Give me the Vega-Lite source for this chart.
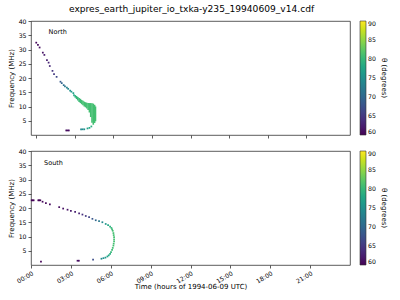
{
  "$schema": "https://vega.github.io/schema/vega-lite/v6.json",
  "background": "white",
  "padding": {"left": 6, "top": 4, "right": 2, "bottom": 2},
  "title": {"text": "expres_earth_jupiter_io_txka-y235_19940609_v14.cdf", "fontSize": 9.1, "font": "DejaVu Sans", "fontWeight": "normal", "color": "#000", "offset": 4, "anchor": "middle", "dx": -6},
  "datasets": {
    "north_dots": [
      {"t": 0.02, "f": 32.4, "th": 60.5}, {"t": 0.15, "f": 31.6, "th": 60.8}, {"t": 0.28, "f": 30.7, "th": 61},
      {"t": 0.53, "f": 28.9, "th": 61.5}, {"t": 0.65, "f": 28.1, "th": 62}, {"t": 0.85, "f": 26.3, "th": 62.5},
      {"t": 0.98, "f": 25.4, "th": 63}, {"t": 1.07, "f": 24.2, "th": 63.5}, {"t": 1.28, "f": 22.5, "th": 64.5},
      {"t": 1.4, "f": 21.4, "th": 65}, {"t": 1.6, "f": 20.4, "th": 66.5}, {"t": 1.9, "f": 18.7, "th": 68.5},
      {"t": 2.0, "f": 18.2, "th": 69.5}, {"t": 2.15, "f": 17.5, "th": 71}, {"t": 2.25, "f": 17.1, "th": 72},
      {"t": 2.4, "f": 16.6, "th": 73}, {"t": 2.5, "f": 16.2, "th": 74}, {"t": 2.65, "f": 15.6, "th": 75},
      {"t": 2.75, "f": 15.2, "th": 76}, {"t": 2.9, "f": 14.7, "th": 77},
      {"t": 4.3, "f": 3.0, "th": 79}, {"t": 4.15, "f": 2.5, "th": 78}, {"t": 4.0, "f": 2.3, "th": 77},
      {"t": 3.75, "f": 2.0, "th": 75}, {"t": 3.62, "f": 2.0, "th": 74.5}, {"t": 3.5, "f": 1.95, "th": 74},
      {"t": 2.35, "f": 1.6, "th": 61}, {"t": 2.45, "f": 1.6, "th": 61}, {"t": 2.55, "f": 1.6, "th": 61}
    ],
    "north_band": [
      {"t": 2.95, "f1": 13.6, "f2": 14.3, "th": 78}, {"t": 3.05, "f1": 13.1, "f2": 14.0, "th": 79},
      {"t": 3.15, "f1": 12.6, "f2": 13.7, "th": 80}, {"t": 3.25, "f1": 12.1, "f2": 13.3, "th": 80},
      {"t": 3.35, "f1": 11.6, "f2": 13.0, "th": 80.5}, {"t": 3.45, "f1": 11.2, "f2": 12.7, "th": 80.5},
      {"t": 3.55, "f1": 10.8, "f2": 12.3, "th": 81}, {"t": 3.65, "f1": 10.4, "f2": 12.0, "th": 81},
      {"t": 3.75, "f1": 10.0, "f2": 11.7, "th": 81}, {"t": 3.85, "f1": 9.7, "f2": 11.5, "th": 81},
      {"t": 3.95, "f1": 9.3, "f2": 11.3, "th": 81}, {"t": 4.05, "f1": 8.8, "f2": 11.2, "th": 81},
      {"t": 4.15, "f1": 7.9, "f2": 11.2, "th": 81}, {"t": 4.25, "f1": 6.3, "f2": 11.2, "th": 81},
      {"t": 4.35, "f1": 4.3, "f2": 11.1, "th": 81}, {"t": 4.45, "f1": 3.6, "f2": 11.0, "th": 81},
      {"t": 4.55, "f1": 4.2, "f2": 10.6, "th": 81}, {"t": 4.62, "f1": 4.8, "f2": 10.0, "th": 81}
    ],
    "south_dots": [
      {"t": 0.05, "f": 22.7, "th": 60.2}, {"t": 0.12, "f": 22.7, "th": 60.2}, {"t": 0.2, "f": 22.7, "th": 60.2},
      {"t": 0.55, "f": 22.7, "th": 60.3}, {"t": 0.62, "f": 22.7, "th": 60.3}, {"t": 0.7, "f": 22.7, "th": 60.3},
      {"t": 0.87, "f": 22.2, "th": 60.5}, {"t": 1.12, "f": 21.7, "th": 60.5}, {"t": 1.42, "f": 21.3, "th": 60.8},
      {"t": 2.12, "f": 20.3, "th": 61}, {"t": 2.42, "f": 19.8, "th": 61.3}, {"t": 2.75, "f": 19.4, "th": 61.5},
      {"t": 3.0, "f": 19.0, "th": 62}, {"t": 3.32, "f": 18.6, "th": 62.5}, {"t": 3.62, "f": 18.1, "th": 63},
      {"t": 3.87, "f": 17.7, "th": 64}, {"t": 4.12, "f": 17.2, "th": 65}, {"t": 4.37, "f": 16.8, "th": 66},
      {"t": 4.62, "f": 16.2, "th": 68}, {"t": 4.87, "f": 15.7, "th": 70}, {"t": 5.12, "f": 15.4, "th": 72},
      {"t": 5.37, "f": 15.0, "th": 74}, {"t": 5.62, "f": 14.4, "th": 76}, {"t": 5.8, "f": 14.0, "th": 78},
      {"t": 5.95, "f": 13.5, "th": 79}, {"t": 6.05, "f": 13.0, "th": 80}, {"t": 6.1, "f": 12.5, "th": 80.5},
      {"t": 6.15, "f": 12.0, "th": 81}, {"t": 6.2, "f": 11.2, "th": 81}, {"t": 6.22, "f": 10.5, "th": 81},
      {"t": 6.25, "f": 9.8, "th": 81}, {"t": 6.25, "f": 9.0, "th": 81}, {"t": 6.25, "f": 8.3, "th": 81},
      {"t": 6.22, "f": 7.5, "th": 81}, {"t": 6.2, "f": 6.8, "th": 81}, {"t": 6.15, "f": 6.0, "th": 81},
      {"t": 6.1, "f": 5.3, "th": 80.5}, {"t": 6.02, "f": 4.5, "th": 80}, {"t": 5.95, "f": 3.9, "th": 79},
      {"t": 5.85, "f": 3.4, "th": 78}, {"t": 5.75, "f": 3.0, "th": 77}, {"t": 5.6, "f": 2.6, "th": 76},
      {"t": 5.45, "f": 2.4, "th": 75}, {"t": 5.3, "f": 2.2, "th": 74}, {"t": 4.67, "f": 1.9, "th": 67},
      {"t": 3.5, "f": 1.5, "th": 61}, {"t": 3.6, "f": 1.5, "th": 61}, {"t": 0.75, "f": 1.2, "th": 60.2}
    ]
  },
  "spacing": 8,
  "resolve": {"scale": {"color": "independent"}},
  "vconcat": [
    {
      "width": 319, "height": 114,
      "layer": [
        {
          "data": {"name": "north_band"},
          "mark": {"type": "bar", "width": 1.6},
          "encoding": {
            "x": {"field": "t", "type": "quantitative", "scale": {"domain": [0, 24], "nice": false}, "axis": {"values": [0, 3, 6, 9, 12, 15, 18, 21], "tickCount": 10, "labels": false, "title": null}},
            "y": {"field": "f1", "type": "quantitative", "scale": {"domain": [0, 40], "nice": false}, "axis": {"values": [5, 10, 15, 20, 25, 30, 35, 40], "tickCount": 10, "title": "Frequency (MHz)"}},
            "y2": {"field": "f2"},
            "color": {"field": "th", "type": "quantitative", "scale": {"scheme": "viridis", "domain": [60, 90]}, "legend": {"title": "θ (degrees)", "values": [60, 65, 70, 75, 80, 85, 90]}}
          }
        },
        {
          "data": {"name": "north_dots"},
          "mark": {"type": "square", "size": 3, "opacity": 1},
          "encoding": {
            "x": {"field": "t", "type": "quantitative"},
            "y": {"field": "f", "type": "quantitative"},
            "color": {"field": "th", "type": "quantitative"}
          }
        },
        {
          "data": {"values": [{"label": "North"}]},
          "mark": {"type": "text", "align": "left", "baseline": "middle", "fontSize": 6.5, "font": "DejaVu Sans", "color": "#000"},
          "encoding": {"x": {"datum": 0.98}, "y": {"datum": 36.3}, "text": {"field": "label"}}
        }
      ]
    },
    {
      "width": 319, "height": 114,
      "layer": [
        {
          "data": {"name": "south_dots"},
          "mark": {"type": "square", "size": 3, "opacity": 1},
          "encoding": {
            "x": {"field": "t", "type": "quantitative", "scale": {"domain": [0, 24], "nice": false}, "axis": {"values": [0, 3, 6, 9, 12, 15, 18, 21], "tickCount": 10, "labelExpr": "(datum.value < 10 ? '0' : '') + datum.value + ':00'", "labelAngle": -30, "labelAlign": "right", "labelBaseline": "top", "titlePadding": -2, "title": "Time (hours of 1994-06-09 UTC)"}},
            "y": {"field": "f", "type": "quantitative", "scale": {"domain": [0, 40], "nice": false}, "axis": {"values": [5, 10, 15, 20, 25, 30, 35, 40], "tickCount": 10, "title": "Frequency (MHz)"}},
            "color": {"field": "th", "type": "quantitative", "scale": {"scheme": "viridis", "domain": [60, 90]}, "legend": {"title": "θ (degrees)", "values": [60, 65, 70, 75, 80, 85, 90]}}
          }
        },
        {
          "data": {"values": [{"label": "South"}]},
          "mark": {"type": "text", "align": "left", "baseline": "middle", "fontSize": 6.5, "font": "DejaVu Sans", "color": "#000"},
          "encoding": {"x": {"datum": 0.98}, "y": {"datum": 35.8}, "text": {"field": "label"}}
        }
      ]
    }
  ],
  "config": {
    "font": "DejaVu Sans",
    "view": {"stroke": "#333", "strokeWidth": 0.8},
    "axis": {"grid": false, "domain": false, "tickSize": 3, "tickColor": "#333", "tickWidth": 0.8, "labelFontSize": 6.2, "labelFont": "DejaVu Sans", "labelColor": "#000", "labelPadding": 2, "labelOverlap": false, "labelFlush": false, "titleFontSize": 7, "titleFont": "DejaVu Sans", "titleFontWeight": "normal", "titleColor": "#000", "titlePadding": 4},
    "legend": {"gradientLength": 114, "gradientThickness": 6, "offset": 10, "labelFontSize": 6.2, "labelFont": "DejaVu Sans", "labelColor": "#000", "labelOffset": 4, "titleFontSize": 7, "titleFont": "DejaVu Sans", "titleFontWeight": "normal", "titleColor": "#000", "titleOrient": "right", "titleAngle": 270, "titleAnchor": "middle", "gradientStrokeColor": "#333", "gradientStrokeWidth": 0.6, "labelBaseline": "middle", "labelOverlap": false}
  }
}
